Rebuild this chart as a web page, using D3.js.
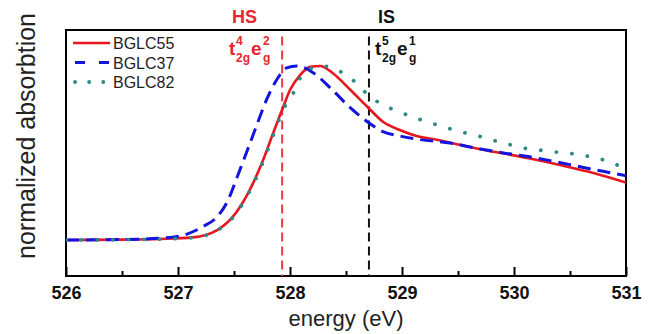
<!DOCTYPE html>
<html>
<head>
<meta charset="utf-8">
<script src="https://cdn.jsdelivr.net/npm/d3@7"></script>
<style>
  body { margin: 0; background: #fff; }
  svg { font-family: Arial, "Liberation Sans", sans-serif; }
</style>
</head>
<body>
<svg id="chart" width="656" height="334"></svg>
<script>
// data (energy in eV, normalized absorption)
const bglc55E = [526.0, 526.5, 526.84, 527.13, 527.35, 527.49, 527.64, 527.76, 527.85, 527.94, 528.0, 528.09, 528.18, 528.27, 528.38, 528.54, 528.69, 528.83, 528.98, 529.13, 529.28, 529.43, 529.7, 530.12, 530.41, 530.71, 531.0];
const bglc55V = [0, 0.002, 0.006, 0.015, 0.057, 0.134, 0.287, 0.46, 0.615, 0.766, 0.862, 0.948, 0.995, 1.0, 0.96, 0.862, 0.766, 0.68, 0.632, 0.598, 0.58, 0.559, 0.522, 0.471, 0.431, 0.385, 0.33];

const bglc37E = [526.0, 526.5, 526.84, 527.08, 527.22, 527.35, 527.44, 527.53, 527.62, 527.71, 527.79, 527.88, 527.97, 528.06, 528.21, 528.36, 528.54, 528.69, 528.83, 528.98, 529.13, 529.43, 529.7, 529.88, 530.14, 530.38, 530.62, 530.86, 531.0];
const bglc37V = [0, 0.003, 0.01, 0.034, 0.076, 0.134, 0.22, 0.365, 0.517, 0.672, 0.805, 0.92, 0.989, 1.0, 0.96, 0.874, 0.759, 0.68, 0.623, 0.598, 0.58, 0.557, 0.523, 0.503, 0.478, 0.449, 0.417, 0.386, 0.37];

const bglc82E = [526.0, 526.5, 526.84, 527.13, 527.35, 527.49, 527.64, 527.76, 527.85, 527.94, 528.03, 528.09, 528.18, 528.29, 528.45, 528.56, 528.69, 528.8, 528.96, 529.09, 529.22, 529.37, 529.52, 529.65, 529.8, 529.95, 530.1, 530.25, 530.38, 530.53, 530.68, 530.83, 530.96, 531.0];
const bglc82V = [0, 0.002, 0.005, 0.013, 0.055, 0.13, 0.28, 0.45, 0.6, 0.75, 0.845, 0.93, 0.985, 1.0, 0.968, 0.92, 0.839, 0.787, 0.741, 0.709, 0.68, 0.651, 0.622, 0.603, 0.575, 0.55, 0.527, 0.515, 0.505, 0.495, 0.479, 0.454, 0.421, 0.41];

const seriesNames = ["BGLC55", "BGLC37", "BGLC82"];
const xTicks = [526, 527, 528, 529, 530, 531];
const hsEnergy = 527.93,
  isEnergy = 528.705;

const plotL = 66, plotR = 626, plotT = 30, plotB = 276;

const x = d3.scaleLinear().domain([526, 531]).range([plotL, plotR]);
const y = d3.scaleLinear().domain([-0.207, 1.207]).range([plotB, plotT]);

const svg = d3.select("#chart");

svg.append("defs").append("clipPath").attr("id", "plotClip")
  .append("rect")
  .attr("x", plotL).attr("y", plotT)
  .attr("width", plotR - plotL).attr("height", plotB - plotT);

// x axis with inward ticks (major + minor)
const xAxis = d3.axisBottom(x)
  .tickValues(xTicks)
  .tickSize(-9)
  .tickFormat(d3.format("d"));

const axisG = svg.append("g")
  .attr("transform", `translate(0,${plotB})`)
  .call(xAxis);
axisG.select(".domain").remove();
axisG.selectAll(".tick line").attr("stroke", "#000").attr("stroke-width", 2);
axisG.selectAll(".tick text")
  .attr("y", 10)
  .attr("dy", "0.71em")
  .style("font-size", "18px")
  .style("font-weight", "bold")
  .attr("fill", "#111");

const minorG = svg.append("g")
  .attr("transform", `translate(0,${plotB})`)
  .call(d3.axisBottom(x).tickValues(d3.range(526.5, 531, 1)).tickSize(-5).tickFormat(""));
minorG.select(".domain").remove();
minorG.selectAll(".tick line").attr("stroke", "#000").attr("stroke-width", 2);

// frame
svg.append("rect")
  .attr("x", plotL).attr("y", plotT)
  .attr("width", plotR - plotL).attr("height", plotB - plotT)
  .attr("fill", "none")
  .attr("stroke", "#000")
  .attr("stroke-width", 2);

// HS / IS marker lines
svg.append("line")
  .attr("x1", x(hsEnergy)).attr("x2", x(hsEnergy))
  .attr("y1", y(1.17)).attr("y2", plotB)
  .attr("stroke", "#e53a40").attr("stroke-width", 2)
  .attr("stroke-dasharray", "9,5");

svg.append("line")
  .attr("x1", x(isEnergy)).attr("x2", x(isEnergy))
  .attr("y1", y(1.17)).attr("y2", plotB)
  .attr("stroke", "#111").attr("stroke-width", 2)
  .attr("stroke-dasharray", "9,5");

// curves
const line = d3.line()
  .x(d => x(d[0]))
  .y(d => y(d[1]))
  .curve(d3.curveMonotoneX);

const curves = [
  { name: "BGLC55", E: bglc55E, V: bglc55V, color: "#e8161e", width: 2.6, dash: null, cap: "butt" },
  { name: "BGLC37", E: bglc37E, V: bglc37V, color: "#1414e0", width: 3, dash: "13,7", cap: "butt" },
  { name: "BGLC82", E: bglc82E, V: bglc82V, color: "#2e8b84", width: 3.8, dash: "0.1,15.5", cap: "round" }
];

const plotG = svg.append("g").attr("clip-path", "url(#plotClip)");

plotG.selectAll(".curve")
  .data(curves)
  .enter()
  .append("path")
  .attr("class", "curve")
  .attr("d", d => line(d3.zip(d.E, d.V)))
  .attr("fill", "none")
  .attr("stroke", d => d.color)
  .attr("stroke-width", d => d.width)
  .attr("stroke-dasharray", d => d.dash)
  .attr("stroke-linecap", d => d.cap);

// legend
const legend = svg.append("g").selectAll("g")
  .data(curves)
  .enter()
  .append("g")
  .attr("transform", (d, i) => `translate(0,${43 + i * 19.5})`);

legend.append("line")
  .attr("x1", d => d.dash ? 75 : 73).attr("x2", 110)
  .attr("stroke", d => d.color)
  .attr("stroke-width", d => d.width)
  .attr("stroke-dasharray", d => d.dash ? (d.cap === "round" ? "0.1,14" : "10,14") : null)
  .attr("stroke-linecap", d => d.cap);

legend.append("text")
  .attr("x", 113)
  .attr("y", 6)
  .style("font-size", "16px")
  .attr("fill", "#222")
  .text(d => d.name);

// annotations
function stateLabel(x0, color, name, tCount, eCount) {
  const g = svg.append("g").attr("fill", color).style("font-weight", "bold");
  g.append("text").attr("x", x0 + 3).attr("y", 23).style("font-size", "18px").text(name);
  g.append("text").attr("x", x0).attr("y", 55).style("font-size", "19px").text("t");
  g.append("text").attr("x", x0 + 7).attr("y", 45).style("font-size", "12px").text(tCount);
  g.append("text").attr("x", x0 + 7).attr("y", 62).style("font-size", "12px").text("2g");
  g.append("text").attr("x", x0 + 22).attr("y", 55).style("font-size", "19px").text("e");
  g.append("text").attr("x", x0 + 34).attr("y", 45).style("font-size", "12px").text(eCount);
  g.append("text").attr("x", x0 + 34).attr("y", 62).style("font-size", "12px").text("g");
}

stateLabel(229, "#e8262c", "HS", "4", "2");
stateLabel(375, "#111", "IS", "5", "1");

// axis titles
svg.append("text")
  .attr("x", (plotL + plotR) / 2)
  .attr("y", 326)
  .attr("text-anchor", "middle")
  .style("font-size", "22px")
  .attr("fill", "#222")
  .text("energy (eV)");

svg.append("text")
  .attr("transform", "translate(35,136) rotate(-90)")
  .attr("text-anchor", "middle")
  .style("font-size", "25px")
  .attr("fill", "#222")
  .text("normalized absorbtion");
</script>
</body>
</html>
